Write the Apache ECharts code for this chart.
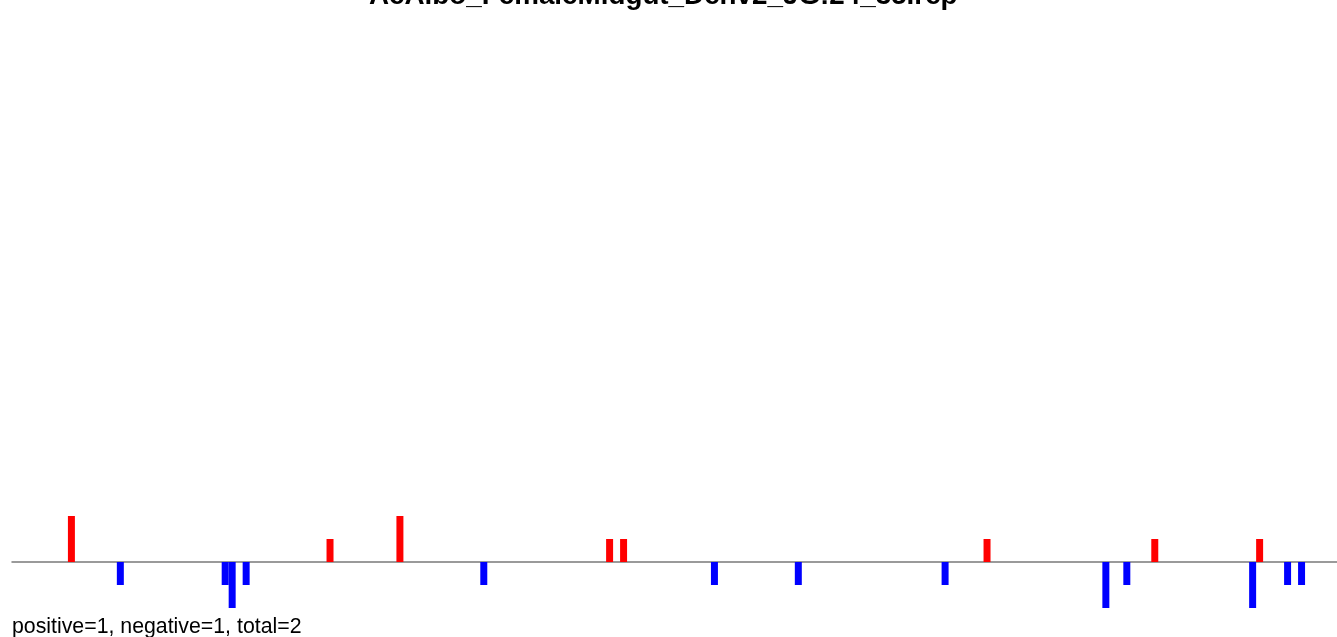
<!DOCTYPE html>
<html>
<head>
<meta charset="utf-8">
<script src="https://cdn.jsdelivr.net/npm/echarts@6/dist/echarts.min.js"></script>
<style>html,body{margin:0;padding:0;background:#fff}#c{width:1337px;height:637px}</style>
</head>
<body>
<div id="c"></div>
<script>
var titleText = "AeAlbo_FemaleMidgut_Dehv2_JG:24_35.rep";
var footerText = "positive=1, negative=1, total=2";
var windowCount = 190;
var posIdx = [8, 45, 55, 85, 87, 139, 163, 178];
var posVal = [2, 1, 2, 1, 1, 1, 1, 1];
var negIdx = [15, 30, 31, 33, 67, 100, 112, 133, 156, 159, 177, 182, 184];
var negVal = [-1, -1, -2, -1, -1, -1, -1, -1, -2, -1, -2, -1, -1];

var categories = [];
for (var i = 0; i < windowCount; i++) categories.push(String(i));
function pairs(ix, v) { return ix.map(function (x, k) { return [x, v[k]]; }); }

var chart = echarts.init(document.getElementById('c'), null, {renderer: 'canvas'});
chart.setOption({
  animation: false,
  backgroundColor: '#ffffff',
  title: {
    text: titleText, left: 364, top: -23,
    textStyle: {fontFamily: 'Liberation Sans', fontWeight: 'bold', fontSize: 27.8, color: '#000'}
  },
  grid: {left: 12, width: 1328, top: 79, bottom: 6, outerBoundsMode: 'none', containLabel: false},
  xAxis: {
    type: 'category', data: categories, boundaryGap: true,
    axisLine: {show: true, onZero: true, lineStyle: {color: '#7a7a7a', width: 1.5}},
    axisTick: {show: false}, axisLabel: {show: false}, splitLine: {show: false}
  },
  yAxis: {
    type: 'value', min: -3, max: 21,
    axisLine: {show: false}, axisTick: {show: false}, axisLabel: {show: false}, splitLine: {show: false}
  },
  series: [
    {type: 'bar', data: pairs(posIdx, posVal), barGap: '-100%', barCategoryGap: '0%', itemStyle: {color: '#ff0000'}},
    {type: 'bar', data: pairs(negIdx, negVal), barGap: '-100%', barCategoryGap: '0%', itemStyle: {color: '#0000ff'}}
  ],
  graphic: [{
    type: 'text', left: 12, top: 616.5,
    style: {text: footerText, fontFamily: 'Liberation Sans', fontSize: 21.3, fill: '#000'}
  }]
});
</script>
</body>
</html>
